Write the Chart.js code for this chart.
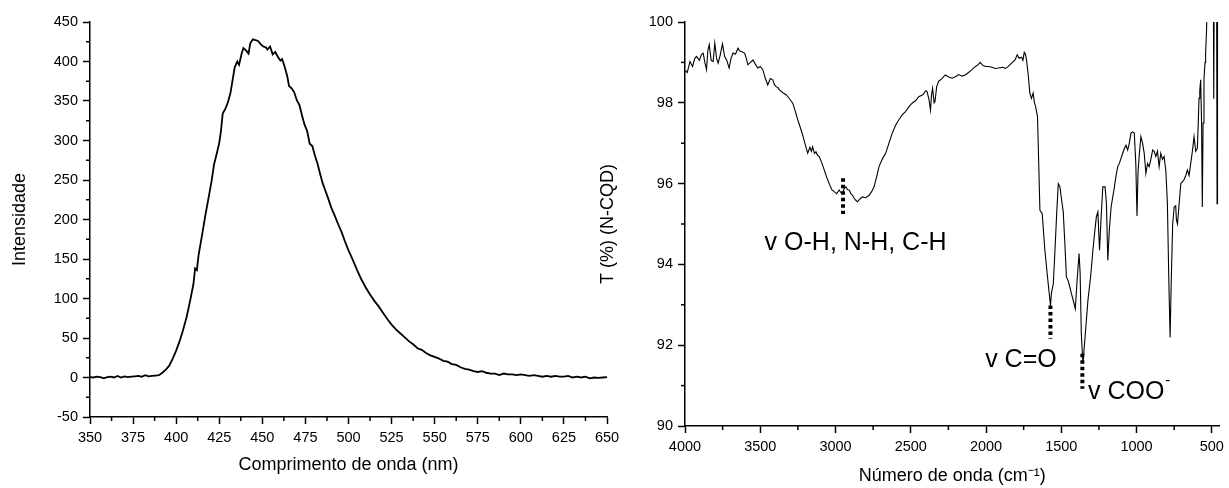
<!DOCTYPE html>
<html>
<head>
<meta charset="utf-8">
<script src="https://cdn.jsdelivr.net/npm/chart.js@4.4.1/dist/chart.umd.min.js"></script>
<style>
  body { margin: 0; background: #fff; }
  #wrap { position: relative; width: 1229px; height: 488px; }
  canvas { position: absolute; top: 0; }
  #plChart { left: 0; }
  #irChart { left: 590px; }
</style>
</head>
<body>
<div id="wrap">
  <canvas id="plChart" width="625" height="488"></canvas>
  <canvas id="irChart" width="639" height="488"></canvas>
</div>
<script>
var FONT = "'Liberation Sans', Arial, sans-serif";

// espectro de fotoluminescencia
var plWavelength = [350, 352, 354, 356, 358, 360, 362, 364, 366, 368, 370, 372, 374, 376, 378, 380, 382, 384, 386, 388,
    390, 392, 394, 396, 398, 400, 402, 404, 406, 408, 410, 411, 412, 413, 415, 417, 419, 420.5, 422, 423.5,
    425, 426, 427, 428.5, 430, 431.5, 433, 434, 435.5, 436.5, 438, 439, 440.5, 442, 443, 444.5, 446, 447.5, 449, 450.5,
    452, 453, 454.5, 456, 457.5, 459, 460.5, 461.5, 463, 464.5, 465.5, 467, 468.5, 470, 471.5, 473, 474.5, 476, 477.5, 479,
    480.5, 482, 483.5, 485, 486.5, 488, 490, 492, 494, 496, 498, 500, 502.5, 505, 507.5, 510, 512.5, 515, 517.5, 520,
    522.5, 525, 527.5, 530, 532.5, 535, 537.5, 540, 542.5, 545, 547.5, 550, 552.5, 555, 557.5, 560, 562.5, 565, 567.5, 570,
    572.5, 575, 577.5, 580, 582.5, 585, 587.5, 590, 592.5, 595, 597.5, 600, 602.5, 605, 607.5, 610, 612.5, 615, 617.5, 620,
    622.5, 625, 627.5, 630, 632.5, 635, 637.5, 640, 642.5, 645, 647.5, 650];
var plIntensity = [0.5, 0, 1, 0.5, -1, 0.5, 1, 0, 2, 0, 1.5, 0.5, 1, 1.5, 2, 1, 3, 1.5, 2, 2.5,
    3, 6, 10, 15, 24, 34, 46, 60, 76, 96, 118, 138, 136, 155, 180, 206, 230, 248, 270, 283,
    297, 312, 334, 340, 348, 360, 380, 393, 400, 396, 410, 417, 414, 410, 423, 428, 427, 426, 422, 419,
    418, 415, 419, 409, 412, 406, 401, 403, 393, 381, 369, 366, 361, 351, 345, 332, 320, 312, 296, 293,
    281, 271, 258, 246, 237, 228, 215, 205, 194, 184, 172, 161, 149, 136, 124, 114, 105, 97, 90, 82,
    74, 67, 61, 56, 51, 46, 42, 37, 35, 31, 28, 26, 24, 21, 20, 17, 16, 13, 11, 10,
    8, 7, 8, 6, 5, 5, 3, 5, 4, 4, 3, 4, 3, 2, 3, 2, 1, 2, 1, 2,
    1, 1, 2, 0, 1, 0, 1, -1, 0, -0.5, 0, 0.5];
var plXTicks = [350, 375, 400, 425, 450, 475, 500, 525, 550, 575, 600, 625, 650];
var plYTicks = [-50, 0, 50, 100, 150, 200, 250, 300, 350, 400, 450];

// espectro FTIR
var irWavenumber = [4000, 3985, 3967, 3950, 3935, 3923, 3905, 3890, 3879, 3868, 3857, 3848, 3839, 3826, 3813, 3802, 3790, 3780, 3765, 3751,
    3737, 3722, 3707, 3694, 3681, 3665, 3648, 3636, 3625, 3604, 3593, 3582, 3565, 3548, 3532, 3516, 3500, 3483, 3466, 3450,
    3433, 3417, 3406, 3395, 3383, 3372, 3350, 3328, 3306, 3284, 3268, 3251, 3235, 3218, 3200, 3185, 3170, 3160, 3152, 3140,
    3130, 3120, 3108, 3090, 3075, 3058, 3042, 3025, 3009, 2992, 2976, 2965, 2953, 2942, 2931, 2920, 2909, 2898, 2887, 2870,
    2854, 2838, 2821, 2800, 2777, 2760, 2744, 2728, 2711, 2690, 2667, 2645, 2623, 2600, 2579, 2557, 2535, 2513, 2491, 2469,
    2447, 2420, 2400, 2392, 2380, 2369, 2362, 2355, 2345, 2339, 2328, 2315, 2293, 2271, 2248, 2226, 2200, 2182, 2160, 2138,
    2116, 2094, 2070, 2050, 2039, 2020, 2000, 1984, 1960, 1940, 1918, 1890, 1870, 1852, 1830, 1807, 1793, 1780, 1764, 1755,
    1746, 1738, 1731, 1720, 1709, 1698, 1687, 1678, 1671, 1658, 1650, 1642, 1635, 1627, 1609, 1587, 1575, 1572, 1565, 1553,
    1542, 1530, 1520, 1509, 1498, 1487, 1476, 1466, 1455, 1443, 1433, 1420, 1407, 1395, 1382, 1375, 1367, 1356, 1340, 1323,
    1305, 1290, 1278, 1267, 1257, 1246, 1235, 1224, 1209, 1200, 1191, 1180, 1169, 1147, 1136, 1125, 1114, 1103, 1092, 1081,
    1070, 1059, 1048, 1037, 1026, 1015, 1005, 997, 990, 980, 971, 960, 949, 938, 927, 916, 905, 893, 883, 872,
    861, 850, 839, 828, 817, 805, 795, 785, 777, 770, 760, 750, 740, 735, 728, 717, 706, 695, 684, 673,
    662, 651, 640, 629, 618, 607, 596, 590, 585, 580, 574, 568, 563, 558, 552, 545, 541, 535, 530, 522,
    512, 505, 497, 490, 487, 484, 475, 468, 465, 462, 455, 450];
var irTransmit = [98.8, 98.75, 99.02, 98.9, 99.1, 99.15, 99.05, 99.2, 99.23, 99.0, 98.82, 99.3, 99.44, 99.05, 99.02, 99.48, 99.1, 98.98, 99.2, 99.46,
    99.15, 99.05, 98.86, 99.1, 99.23, 99.2, 99.35, 99.28, 99.27, 99.23, 99.1, 98.94, 99.0, 99.06, 98.95, 98.86, 98.9, 98.82, 98.6, 98.44,
    98.6, 98.57, 98.45, 98.4, 98.38, 98.32, 98.25, 98.2, 98.1, 97.99, 97.8, 97.58, 97.4, 97.2, 96.95, 96.75, 96.9, 96.8, 96.91, 96.75,
    96.79, 96.7, 96.67, 96.5, 96.34, 96.15, 96.0, 95.85, 95.8, 95.75, 95.84, 95.78, 95.77, 95.88, 95.92, 95.85, 95.84, 95.75, 95.71, 95.6,
    95.55, 95.62, 95.67, 95.65, 95.71, 95.8, 95.92, 96.15, 96.42, 96.6, 96.75, 97.0, 97.25, 97.45, 97.58, 97.7, 97.78, 97.9, 97.99, 98.05,
    98.15, 98.2, 98.3, 98.28, 98.1, 97.82, 98.2, 98.36, 98.0, 98.03, 98.4, 98.53, 98.6, 98.69, 98.64, 98.61, 98.65, 98.7, 98.66, 98.69,
    98.75, 98.82, 98.9, 98.95, 99.0, 98.92, 98.9, 98.9, 98.88, 98.85, 98.86, 98.88, 98.85, 98.9, 98.98, 99.06, 99.19, 99.1, 99.13, 99.05,
    99.25, 99.2, 99.06, 98.7, 98.24, 98.11, 98.24, 98.0, 97.91, 97.66, 96.5, 95.34, 95.3, 95.26, 94.35, 93.52, 93.1, 92.98, 93.3, 93.52,
    94.35, 95.3, 96.0, 95.92, 95.6, 95.3, 94.5, 93.69, 93.6, 93.44, 93.28, 93.1, 92.9, 93.6, 94.27, 93.8, 92.28, 91.54, 92.3, 93.11,
    93.7, 94.35, 94.8, 95.18, 95.3, 94.35, 95.2, 95.92, 95.92, 95.5, 94.1, 94.9, 95.42, 95.92, 96.2, 96.42, 96.5, 96.63, 96.75, 96.87,
    96.95, 96.83, 97.0, 97.25, 97.28, 97.25, 96.5, 95.2, 96.3, 96.8, 97.16, 97.0, 96.75, 96.25, 96.5, 96.42, 96.6, 96.83, 96.8, 96.67,
    96.8, 96.42, 96.75, 96.6, 96.67, 96.3, 95.5, 93.5, 92.19, 93.5, 95.0, 95.42, 95.45, 95.1, 95.0, 95.5, 96.0, 96.05, 96.1, 96.2,
    96.34, 96.2, 96.5, 96.8, 97.16, 96.8, 96.87, 97.5, 98.11, 98.3, 98.57, 97.5, 95.42, 97.5, 98.6, 99.0, 99.23, 99.8, 100.6, 101.2,
    101.5, 100.6, 101.2, 101.0, 98.1, 101.0, 101.2, 100.8, 95.5, 101.0, 101.3, 101.0];
var irXTicks = [4000, 3500, 3000, 2500, 2000, 1500, 1000, 500];
var irYTicks = [90, 92, 94, 96, 98, 100];

// atribuicoes das bandas (posicao em unidades dos eixos)
var irBands = [
    { text: 'v O-H, N-H, C-H', sup: '', x: 2950, from: 96.13, to: 95.25, tx: 3471, ty: 94.52 },
    { text: 'v C=O', sup: '', x: 1572, from: 92.98, to: 92.16, tx: 2006, ty: 91.62 },
    { text: 'v COO', sup: '-', x: 1360, from: 91.79, to: 90.92, tx: 1323, ty: 90.83 }
];

function pairs(xs, ys) {
    return xs.map(function(x, i) { return { x: x, y: ys[i] }; });
}

function fixedTicks(values) {
    return function(scale) {
        scale.ticks = values.map(function(v) { return { value: v }; });
    };
}

// ticks menores no meio dos maiores
var minorTicks = {
    id: 'minorTicks',
    afterDraw: function(chart) {
        var ctx = chart.ctx;
        ctx.save();
        ctx.strokeStyle = '#000';
        ctx.lineWidth = 1.5;
        ['x', 'y'].forEach(function(id) {
            var s = chart.scales[id];
            var t = s.ticks;
            for (var i = 0; i < t.length - 1; i++) {
                var p = s.getPixelForValue((t[i].value + t[i + 1].value) / 2);
                ctx.beginPath();
                if (id === 'x') {
                    ctx.moveTo(p, s.top);
                    ctx.lineTo(p, s.top + 4);
                } else {
                    ctx.moveTo(s.right, p);
                    ctx.lineTo(s.right - 4, p);
                }
                ctx.stroke();
            }
        });
        ctx.restore();
    }
};

var bandLabels = {
    id: 'bandLabels',
    afterDatasetsDraw: function(chart) {
        var ctx = chart.ctx, xs = chart.scales.x, ys = chart.scales.y;
        ctx.save();
        irBands.forEach(function(b) {
            var px = xs.getPixelForValue(b.x);
            ctx.setLineDash([3.5, 3]);
            ctx.lineWidth = 4;
            ctx.strokeStyle = '#000';
            ctx.beginPath();
            ctx.moveTo(px, ys.getPixelForValue(b.from));
            ctx.lineTo(px, ys.getPixelForValue(b.to));
            ctx.stroke();
            ctx.setLineDash([]);

            var tx = xs.getPixelForValue(b.tx), ty = ys.getPixelForValue(b.ty);
            ctx.font = '25px ' + FONT;
            ctx.fillStyle = '#000';
            ctx.textAlign = 'left';
            ctx.textBaseline = 'middle';
            ctx.fillText(b.text, tx, ty);
            if (b.sup) {
                var w = ctx.measureText(b.text).width;
                ctx.font = '15px ' + FONT;
                ctx.fillText(b.sup, tx + w + 1, ty - 12);
            }
        });
        ctx.restore();
    }
};

function axisGrid() {
    return {
        drawOnChartArea: false,
        drawTicks: true,
        tickLength: 7,
        tickColor: '#000',
        tickWidth: 1.5
    };
}

var plChart = new Chart(document.getElementById('plChart'), {
    type: 'line',
    data: {
        datasets: [{
            data: pairs(plWavelength, plIntensity),
            borderColor: '#000',
            borderWidth: 1.8,
            pointRadius: 0,
            tension: 0,
            fill: false
        }]
    },
    options: {
        responsive: false,
        animation: false,
        events: [],
        layout: { padding: { left: 0, top: 22, right: 18, bottom: 0 } },
        scales: {
            x: {
                type: 'linear',
                min: 350,
                max: 650,
                afterBuildTicks: fixedTicks(plXTicks),
                afterFit: function(s) { s.height = 71; },
                grid: axisGrid(),
                border: { display: true, color: '#000', width: 1.5 },
                ticks: {
                    color: '#000',
                    padding: 5,
                    maxRotation: 0,
                    autoSkip: false,
                    font: { family: FONT, size: 14.5 },
                    callback: function(v) { return String(v); }
                },
                title: {
                    display: true,
                    text: 'Comprimento de onda (nm)',
                    color: '#000',
                    font: { family: FONT, size: 18 },
                    padding: { top: 0, bottom: 12 }
                }
            },
            y: {
                min: -50,
                max: 450,
                afterBuildTicks: fixedTicks(plYTicks),
                afterFit: function(s) { s.width = 90; },
                grid: axisGrid(),
                border: { display: true, color: '#000', width: 1.5 },
                ticks: {
                    color: '#000',
                    padding: 5,
                    font: { family: FONT, size: 14.5 },
                    callback: function(v) { return String(v); }
                },
                title: {
                    display: true,
                    text: 'Intensidade',
                    color: '#000',
                    font: { family: FONT, size: 18 },
                    padding: { top: 9, bottom: 0 }
                }
            }
        },
        plugins: {
            legend: { display: false },
            tooltip: { enabled: false }
        }
    },
    plugins: [minorTicks]
});

var irChart = new Chart(document.getElementById('irChart'), {
    type: 'line',
    data: {
        datasets: [{
            data: pairs(irWavenumber, irTransmit),
            borderColor: '#000',
            borderWidth: 1.1,
            pointRadius: 0,
            tension: 0,
            fill: false
        }]
    },
    options: {
        responsive: false,
        animation: false,
        events: [],
        layout: { padding: { left: 0, top: 22, right: 7, bottom: 0 } },
        scales: {
            x: {
                type: 'linear',
                reverse: true,
                min: 450,
                max: 4000,
                afterBuildTicks: fixedTicks(irXTicks),
                afterFit: function(s) { s.height = 62; },
                grid: axisGrid(),
                border: { display: true, color: '#000', width: 1.5 },
                ticks: {
                    color: '#000',
                    padding: 5,
                    maxRotation: 0,
                    autoSkip: false,
                    font: { family: FONT, size: 14.5 },
                    callback: function(v) { return String(v); }
                },
                title: {
                    display: true,
                    text: 'Número de onda (cm\u207B\u00B9)',
                    color: '#000',
                    font: { family: FONT, size: 18 },
                    padding: { top: 0, bottom: 1 }
                }
            },
            y: {
                min: 90,
                max: 100,
                afterBuildTicks: fixedTicks(irYTicks),
                afterFit: function(s) { s.width = 95; },
                grid: axisGrid(),
                border: { display: true, color: '#000', width: 1.5 },
                ticks: {
                    color: '#000',
                    padding: 5,
                    font: { family: FONT, size: 14.5 },
                    callback: function(v) { return String(v); }
                },
                title: {
                    display: true,
                    text: 'T (%) (N-CQD)',
                    color: '#000',
                    font: { family: FONT, size: 18 },
                    padding: { top: 7, bottom: 0 }
                }
            }
        },
        plugins: {
            legend: { display: false },
            tooltip: { enabled: false }
        }
    },
    plugins: [minorTicks, bandLabels]
});
</script>
</body>
</html>
